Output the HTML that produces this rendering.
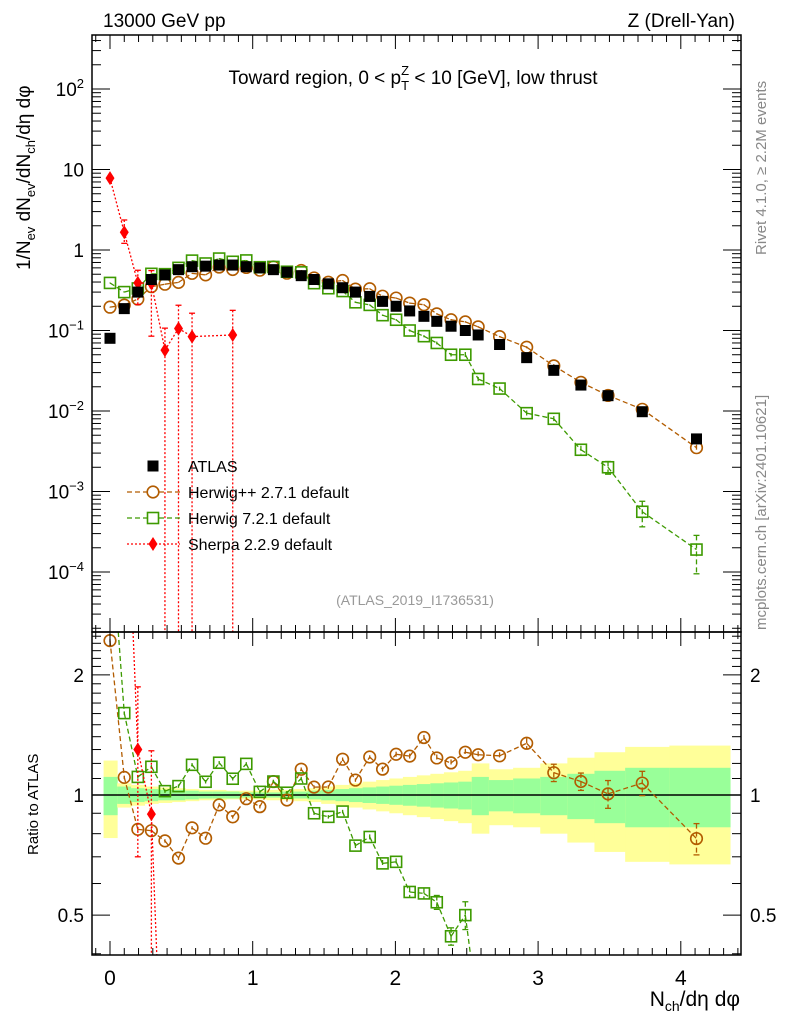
<!DOCTYPE html>
<html><head><meta charset="utf-8"><style>
html,body{margin:0;padding:0;background:#fff;width:786px;height:1024px;overflow:hidden}
svg{display:block;font-family:"Liberation Sans","DejaVu Sans",sans-serif}
</style></head><body>
<svg id="c" width="786" height="1024" viewBox="0 0 786 1024" xmlns="http://www.w3.org/2000/svg">
<defs>
<clipPath id="clipTop"><rect x="92" y="35" width="649" height="597"/></clipPath>
<clipPath id="clipRat"><rect x="92" y="632" width="649" height="323"/></clipPath>
</defs>
<g id="bands" clip-path="url(#clipRat)"></g>
<g id="marksTop" clip-path="url(#clipTop)"></g>
<g id="marksRat" clip-path="url(#clipRat)"></g>
<g id="axes"></g>
<text x="103" y="27" font-size="19">13000 GeV pp</text>
<text x="735" y="27" font-size="19" text-anchor="end">Z (Drell-Yan)</text>
<text x="413" y="84" font-size="19" text-anchor="middle">Toward region, 0 &lt; p<tspan font-size="13" dy="6">T</tspan><tspan font-size="13" dx="-8" dy="-15">Z</tspan><tspan dy="9"> &lt; 10 [GeV], low thrust</tspan></text>
<text transform="translate(766,255) rotate(-90)" font-size="15" fill="#888">Rivet 4.1.0, ≥ 2.2M events</text>
<text transform="translate(766,630) rotate(-90)" font-size="15" fill="#888">mcplots.cern.ch [arXiv:2401.10621]</text>
<text x="415" y="605" font-size="14" fill="#999" text-anchor="middle">(ATLAS_2019_I1736531)</text>
<text transform="translate(30,270) rotate(-90)" font-size="19">1/N<tspan font-size="13" dy="5">ev</tspan><tspan dy="-5"> dN</tspan><tspan font-size="13" dy="5">ev</tspan><tspan dy="-5">/dN</tspan><tspan font-size="13" dy="5">ch</tspan><tspan dy="-5">/dη dφ</tspan></text>
<text transform="translate(38,855) rotate(-90)" font-size="15">Ratio to ATLAS</text>
<text x="740" y="1006" font-size="21" text-anchor="end">N<tspan font-size="14" dy="5">ch</tspan><tspan dy="-5">/dη dφ</tspan></text>
<g id="legend"></g>
</svg>
<script>
const xs=[0,0.1,0.195,0.29,0.385,0.48,0.575,0.67,0.765,0.86,0.955,1.05,1.145,1.24,1.34,1.43,1.53,1.63,1.72,1.82,1.91,2.005,2.1,2.2,2.29,2.39,2.49,2.58,2.73,2.92,3.11,3.30,3.49,3.73,4.11];
const atlas=[0.080,0.187,0.30,0.43,0.49,0.57,0.62,0.63,0.65,0.65,0.62,0.60,0.57,0.53,0.48,0.43,0.38,0.34,0.30,0.265,0.23,0.20,0.175,0.15,0.13,0.113,0.100,0.088,0.067,0.046,0.032,0.021,0.0155,0.0098,0.0045];
const herwigpp=[0.195,0.207,0.246,0.35,0.376,0.396,0.513,0.491,0.614,0.573,0.607,0.561,0.616,0.515,0.557,0.450,0.398,0.418,0.327,0.330,0.267,0.253,0.219,0.209,0.161,0.136,0.128,0.111,0.084,0.062,0.0364,0.0227,0.0156,0.0105,0.0035];
const herwigppErr=[0.01,0.01,0.01,0.01,0.01,0.01,0.01,0.01,0.01,0.01,0.01,0.01,0.01,0.01,0.01,0.01,0.01,0.01,0.01,0.01,0.015,0.015,0.015,0.015,0.02,0.02,0.02,0.02,0.02,0.03,0.05,0.05,0.08,0.07,0.09];
const herwig7=[0.39,0.30,0.333,0.506,0.501,0.600,0.738,0.680,0.783,0.714,0.742,0.611,0.616,0.537,0.528,0.387,0.335,0.309,0.224,0.208,0.155,0.136,0.100,0.085,0.070,0.050,0.050,0.025,0.019,0.0094,0.0080,0.0033,0.0020,0.00056,0.00019];
const herwig7Err=[0.01,0.01,0.01,0.01,0.01,0.01,0.01,0.01,0.01,0.01,0.01,0.01,0.01,0.01,0.01,0.01,0.01,0.01,0.015,0.015,0.02,0.02,0.03,0.03,0.04,0.05,0.08,0.06,0.06,0.08,0.08,0.12,0.18,0.35,0.5];
const sherpaX=[0,0.1,0.195,0.29,0.385,0.48,0.575,0.86];
const sherpa=[7.8,1.66,0.39,0.385,0.057,0.106,0.084,0.088];
const sherpaUp=[0.6,0.7,0.17,0.17,0.05,0.1,0.08,0.09];
const sherpaDn=[0.5,0.45,0.18,0.3,0.057,0.106,0.084,0.088];
const bandG=[.11,.05,.04,.035,.03,.03,.025,.02,.02,.02,.015,.015,.015,.02,.02,.025,.03,.035,.04,.045,.05,.055,.06,.065,.07,.075,.08,.11,.09,.10,.11,.13,.15,.17,.17];
const bandY=[.22,.07,.06,.05,.045,.04,.035,.03,.03,.025,.025,.025,.03,.03,.035,.04,.05,.06,.07,.08,.09,.10,.11,.12,.13,.14,.15,.20,.16,.17,.20,.24,.28,.32,.33];
const xTicks=[0,1,2,3,4];
const topTicks=[2,1,0,-1,-2,-3,-4];
const ratTicks=[2,1,0.5];

const NS='http://www.w3.org/2000/svg';
const X=v=>110+v*142.7;
const YT=v=>250-Math.log10(Math.max(v,1e-12))*80.5;
const YR=v=>795-Math.log10(Math.max(v,1e-12))*399;
const TOP={y0:35,y1:632}, RAT={y0:632,y1:955};
function mk(tag,attrs,parent){const e=document.createElementNS(NS,tag);for(const k in attrs)e.setAttribute(k,attrs[k]);parent.appendChild(e);return e;}
const gB=document.getElementById('bands'),gT=document.getElementById('marksTop'),gR=document.getElementById('marksRat'),gA=document.getElementById('axes'),gL=document.getElementById('legend');

const edges=[-0.045];
for(let i=0;i<xs.length-1;i++)edges.push((xs[i]+xs[i+1])/2);
edges.push(4.345);
xs.forEach((x,i)=>{
 const x0=X(edges[i]),x1=X(edges[i+1]);
 let r=mk('rect',{x:x0,y:YR(1+bandY[i]),width:x1-x0+0.5,height:YR(1-bandY[i])-YR(1+bandY[i]),fill:'#ffff99'},gB);
 
 
 r=mk('rect',{x:x0,y:YR(1+bandG[i]),width:x1-x0+0.5,height:YR(1-bandG[i])-YR(1+bandG[i]),fill:'#99ff99'},gB);
 
 
});
let ln=mk('line',{x1:92,x2:741,y1:YR(1),y2:YR(1),stroke:'#000','stroke-width':1.5},gB);



// clip a segment to y range [a,b]
function clipSeg(x1,y1,x2,y2,a,b){
 if((y1<a&&y2<a)||(y1>b&&y2>b))return null;
 const f=(yt)=>x1+(x2-x1)*(yt-y1)/(y2-y1);
 if(y1<a){x1=f(a);y1=a;} else if(y1>b){x1=f(b);y1=b;}
 if(y2<a){x2=x1+(x2-x1)*0; }
 return [x1,y1,x2,y2];
}
function segPath(px,py,a,b){
 let d='';
 for(let i=0;i<px.length-1;i++){
  let x1=px[i],y1=py[i],x2=px[i+1],y2=py[i+1];
  if((y1<a&&y2<a)||(y1>b&&y2>b))continue;
  const fx=yt=>x1+(x2-x1)*(yt-y1)/(y2-y1);
  let sx=x1,sy=y1,ex=x2,ey=y2;
  if(sy<a){sx=fx(a);sy=a;}else if(sy>b){sx=fx(b);sy=b;}
  if(ey<a){ex=fx(a);ey=a;}else if(ey>b){ex=fx(b);ey=b;}
  d+=`M${sx.toFixed(2)},${sy.toFixed(2)}L${ex.toFixed(2)},${ey.toFixed(2)}`;
 }
 return d;
}
const clampY=(y,R)=>Math.min(Math.max(y,R.y0),R.y1);

function series(g,xv,yv,Y,R,err,color,dash,marker,name,errUp,errDn){
 const px=xv.map(X), py=xv.map((x,i)=>Y(yv[i]));
 const pl=mk('path',{d:segPath(px,py,R.y0,R.y1),fill:'none',stroke:color,'stroke-width':1.3,'stroke-dasharray':dash},g);
 
 
 xv.forEach((x,i)=>{
  const cx=px[i],cy=py[i];
  let up,dn;
  if(errUp){up=Y(yv[i]+errUp[i]);dn=Y(Math.max(yv[i]-errDn[i],1e-12));}
  else if(err){up=Y(yv[i]*(1+err[i]));dn=Y(yv[i]*(1-err[i]));}
  if(up!==undefined){
   const cu=clampY(up,R),cd=clampY(dn,R);
   if(cd>cu){
    const e=mk('line',{x1:cx,x2:cx,y1:cu,y2:cd,stroke:color,'stroke-width':1.3,'stroke-dasharray':dash},g);
    
    
    if(dn-up>12){
     if(up>=R.y0)mk('line',{x1:cx-3,x2:cx+3,y1:up,y2:up,stroke:color,'stroke-width':1.3},g);
     if(dn<=R.y1)mk('line',{x1:cx-3,x2:cx+3,y1:dn,y2:dn,stroke:color,'stroke-width':1.3},g);
    }
   }
  }
  if(cy<R.y0-10||cy>R.y1+10)return;
  let m;
  if(marker==='circle')m=mk('circle',{cx:cx,cy:cy,r:5.8,fill:'none',stroke:color,'stroke-width':1.6},g);
  else if(marker==='osq')m=mk('rect',{x:cx-5.5,y:cy-5.5,width:11,height:11,fill:'none',stroke:color,'stroke-width':1.6},g);
  else m=mk('polygon',{points:`${cx},${cy-7} ${cx+4.5},${cy} ${cx},${cy+7} ${cx-4.5},${cy}`,fill:color},g);
  
  
 });
}
const sherpaAtlas=sherpaX.map(x=>atlas[xs.indexOf(x)]);
series(gT,xs,herwigpp,YT,TOP,herwigppErr,'#b25c00','5,3','circle','herwigpp');
series(gT,xs,herwig7,YT,TOP,herwig7Err,'#3d9a00','5,3','osq','herwig7');
series(gT,sherpaX,sherpa,YT,TOP,null,'#ff0000','2,2','diamond','sherpa',sherpaUp,sherpaDn);
xs.forEach((x,i)=>{const m=mk('rect',{x:X(x)-5.5,y:YT(atlas[i])-5.5,width:11,height:11,fill:'#000'},gT);
 
 });
series(gR,xs,herwigpp.map((v,i)=>v/atlas[i]),YR,RAT,herwigppErr,'#b25c00','5,3','circle','herwigpp-ratio');
series(gR,xs,herwig7.map((v,i)=>v/atlas[i]),YR,RAT,herwig7Err,'#3d9a00','5,3','osq','herwig7-ratio');
series(gR,sherpaX,sherpa.map((v,i)=>v/sherpaAtlas[i]),YR,RAT,null,'#ff0000','2,2','diamond','sherpa-ratio',sherpaUp.map((v,i)=>v/sherpaAtlas[i]),sherpaDn.map((v,i)=>v/sherpaAtlas[i]));

[[35,632],[632,955]].forEach(([t,b],k)=>{
 const f=mk('rect',{x:92,y:t,width:649,height:b-t,fill:'none',stroke:'#000','stroke-width':1.5},gA);
 
 
 for(let v=-0.1;v<=4.41;v+=0.1){
  const xv=Math.round(v*10)/10, px=X(xv), major=Math.abs(xv-Math.round(xv))<1e-6;
  const L=major?14:7;
  mk('line',{x1:px,x2:px,y1:b,y2:b-L,stroke:'#000','stroke-width':1},gA);
  mk('line',{x1:px,x2:px,y1:t,y2:t+L,stroke:'#000','stroke-width':1},gA);
 }
});
xTicks.forEach(v=>{const t=mk('text',{x:X(v),y:985,'font-size':21,'text-anchor':'middle'},gA);t.textContent=v;
 
 });
for(let d=-5;d<=2;d++){for(let m=1;m<10;m++){const v=m*Math.pow(10,d),py=YT(v);if(py<35||py>632)continue;const L=m===1?18:9;
 mk('line',{x1:92,x2:92+L,y1:py,y2:py,stroke:'#000'},gA);mk('line',{x1:741,x2:741-L,y1:py,y2:py,stroke:'#000'},gA);}}
topTicks.forEach(d=>{const t=mk('text',{x:84,y:YT(Math.pow(10,d))+7,'font-size':19,'text-anchor':'end'},gA);
 
 
 if(d===0)t.textContent='1';else if(d===1)t.textContent='10';
 else{t.textContent='10';const s=mk('tspan',{'font-size':13,dy:-8},t);s.textContent=String(d).replace('-','−');}});
[0.4,0.5,0.6,0.7,0.8,0.9,1,1.1,1.2,1.3,1.4,1.5,1.6,1.7,1.8,1.9,2,2.1,2.2,2.3,2.4,2.5].forEach(v=>{const py=YR(v);if(py<632||py>955)return;const L=(v===0.5||v===1||v===2)?18:9;
 mk('line',{x1:92,x2:92+L,y1:py,y2:py,stroke:'#000'},gA);mk('line',{x1:741,x2:741-L,y1:py,y2:py,stroke:'#000'},gA);});
ratTicks.forEach(v=>{[[84,'end'],[750,'start']].forEach(([x,a])=>{const t=mk('text',{x:x,y:YR(v)+7,'font-size':19,'text-anchor':a},gA);t.textContent=v;
 
 });});

const leg=[['ATLAS','#000','sq',''],['Herwig++ 2.7.1 default','#b25c00','circle','5,3'],['Herwig 7.2.1 default','#3d9a00','osq','5,3'],['Sherpa 2.2.9 default','#ff0000','diamond','2,2']];
leg.forEach((l,i)=>{const y=466+i*26,cx=153;
 const g=mk('g',{},gL);
 
 
 if(l[3])mk('line',{x1:127,x2:180,y1:y,y2:y,stroke:l[1],'stroke-width':1.3,'stroke-dasharray':l[3]},g);
 if(l[2]==='sq')mk('rect',{x:cx-5.5,y:y-5.5,width:11,height:11,fill:l[1]},g);
 else if(l[2]==='circle')mk('circle',{cx:cx,cy:y,r:5.8,fill:'#fff',stroke:l[1],'stroke-width':1.6},g);
 else if(l[2]==='osq')mk('rect',{x:cx-5.5,y:y-5.5,width:11,height:11,fill:'#fff',stroke:l[1],'stroke-width':1.6},g);
 else mk('polygon',{points:`${cx},${y-7} ${cx+4.5},${y} ${cx},${y+7} ${cx-4.5},${y}`,fill:l[1]},g);
 const t=mk('text',{x:188,y:y+6,'font-size':16},g);t.textContent=l[0];});
</script>
</body></html>
